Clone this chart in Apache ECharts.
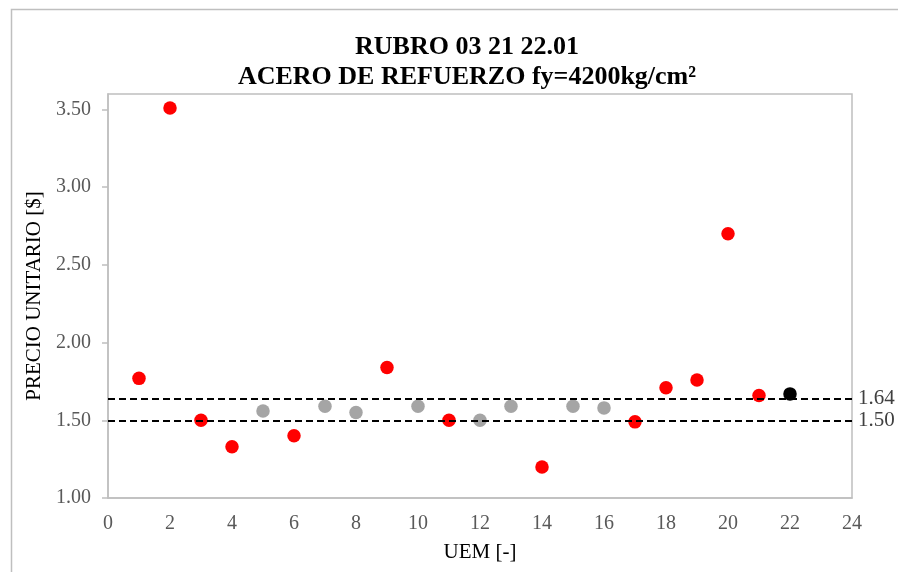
<!DOCTYPE html>
<html>
<head>
<meta charset="utf-8">
<script src="https://cdn.jsdelivr.net/npm/echarts@6/dist/echarts.min.js"></script>
<style>
  html, body { margin: 0; padding: 0; background: #fff; }
  #chart { width: 898px; height: 572px; }
</style>
</head>
<body>
<div id="chart"></div>
<script>
// UEM number of each offer
const uem = [1, 2, 3, 4, 5, 6, 7, 8, 9, 10, 11, 12, 13, 14, 15, 16, 17, 18, 19, 20, 21, 22];
// Unit price of each offer [$]
const precios = [1.77, 3.51, 1.50, 1.33, 1.56, 1.40, 1.59, 1.55, 1.84, 1.59, 1.50, 1.50,
                 1.59, 1.20, 1.59, 1.58, 1.49, 1.71, 1.76, 2.70, 1.66, 1.67];
// Group of each offer: outside the band, inside the band, reference
const grupos = ['fuera', 'fuera', 'fuera', 'fuera', 'dentro', 'fuera', 'dentro', 'dentro', 'fuera', 'dentro', 'fuera', 'dentro',
                'dentro', 'fuera', 'dentro', 'dentro', 'fuera', 'fuera', 'fuera', 'fuera', 'fuera', 'referencia'];
// Limits of the band
const limites = [1.64, 1.50];
const yTicks = [1.00, 1.50, 2.00, 2.50, 3.00, 3.50];
const xTicks = [0, 2, 4, 6, 8, 10, 12, 14, 16, 18, 20, 22, 24];

const colores = { fuera: '#FF0000', dentro: '#A5A5A5', referencia: '#000000' };

function puntos(g) {
  const out = [];
  uem.forEach((u, i) => { if (grupos[i] === g) out.push([u, precios[i]]); });
  return out;
}

const serif = '"Liberation Serif", "Times New Roman", serif';

const chart = echarts.init(document.getElementById('chart'), null, { renderer: 'canvas' });

const series = Object.keys(colores).map(g => ({
  type: 'scatter',
  name: g,
  data: puntos(g),
  symbol: 'circle',
  symbolSize: 13.5,
  itemStyle: { color: colores[g], opacity: 1 },
  z: 3
}));

series.push({
  type: 'scatter',
  name: 'limites',
  data: [],
  silent: true,
  markLine: {
    silent: true,
    symbol: ['none', 'none'],
    animation: false,
    lineStyle: { color: '#000', width: 2, type: [7, 4] },
    label: {
      show: true,
      position: 'end',
      distance: 6,
      formatter: p => p.value.toFixed(2),
      color: '#404040',
      fontFamily: serif,
      fontSize: 21
    },
    data: limites.map(v => ({ yAxis: v }))
  }
});

chart.setOption({
  animation: false,
  backgroundColor: '#fff',
  graphic: [{
    type: 'rect',
    shape: { x: 11.5, y: 9.5, width: 1000, height: 700 },
    style: { fill: 'none', stroke: '#BFBFBF', lineWidth: 1.5 },
    silent: true,
    z: -10
  }],
  title: {
    text: 'RUBRO 03 21 22.01\nACERO DE REFUERZO fy=4200kg/cm²',
    left: 462,
    top: 27,
    textAlign: 'center',
    textStyle: {
      fontFamily: serif,
      fontWeight: 'bold',
      fontSize: 26,
      lineHeight: 30,
      color: '#000'
    }
  },
  grid: {
    left: 108, right: 46, top: 94, bottom: 74,
    show: true,
    borderColor: '#BFBFBF',
    borderWidth: 1.5
  },
  xAxis: {
    type: 'value',
    min: 0, max: 24, interval: 2,
    name: 'UEM [-]',
    nameLocation: 'middle',
    nameGap: 44,
    nameTextStyle: { fontFamily: serif, fontSize: 21, color: '#000' },
    axisLine: { show: true, lineStyle: { color: '#BFBFBF', width: 1.5 } },
    axisTick: { show: false },
    splitLine: { show: false },
    axisLabel: {
      fontFamily: serif, fontSize: 20, color: '#595959', margin: 16,
      formatter: v => xTicks.includes(v) ? String(v) : ''
    }
  },
  yAxis: {
    type: 'value',
    min: 1.0, max: 3.6, interval: 0.5,
    name: 'PRECIO UNITARIO [$]',
    nameLocation: 'middle',
    nameGap: 62,
    nameRotate: 90,
    nameTextStyle: { fontFamily: serif, fontSize: 21, color: '#000' },
    axisLine: { show: true, lineStyle: { color: '#BFBFBF', width: 1.5 } },
    axisTick: { show: true, inside: false, length: 6, lineStyle: { color: '#BFBFBF', width: 1.5 } },
    splitLine: { show: false },
    axisLabel: {
      fontFamily: serif, fontSize: 20, color: '#595959', margin: 17,
      showMaxLabel: false,
      formatter: v => yTicks.some(t => Math.abs(t - v) < 1e-6) ? v.toFixed(2) : ''
    }
  },
  series: series
});
</script>
</body>
</html>
